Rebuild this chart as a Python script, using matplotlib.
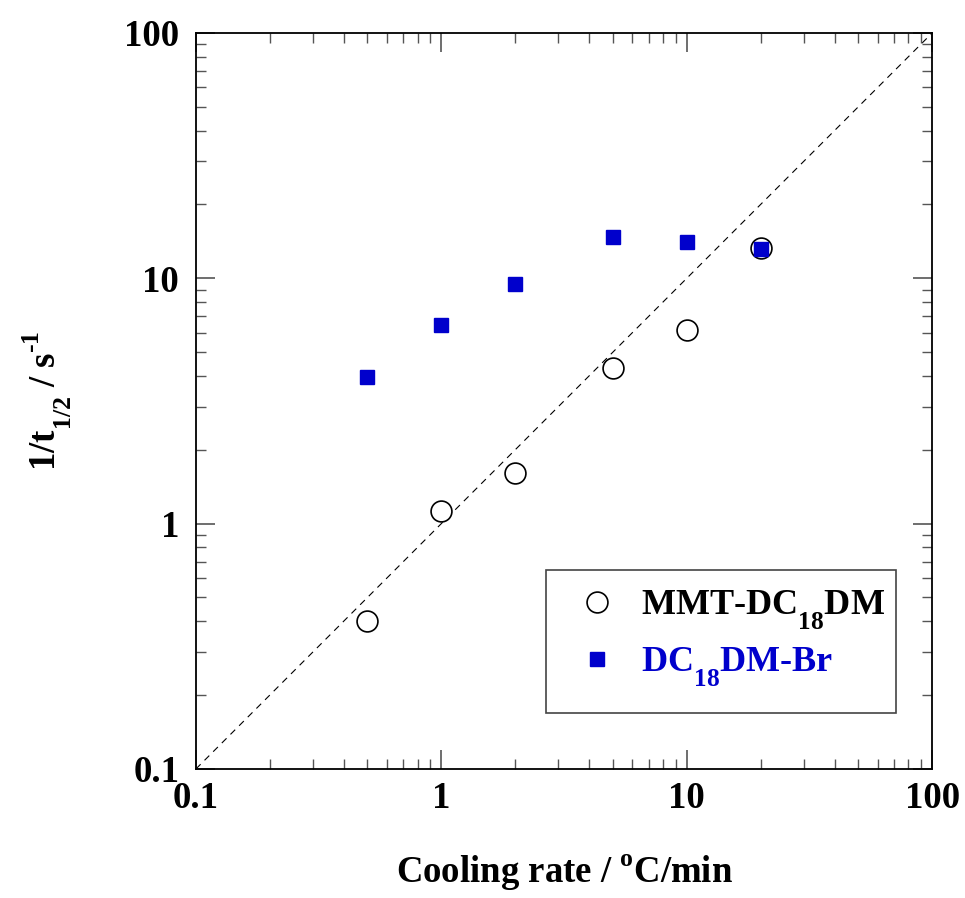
import numpy as np
import matplotlib
matplotlib.use("Agg")
import matplotlib.pyplot as plt
import matplotlib._mathtext as mt
from matplotlib.patches import Rectangle

plt.rcParams['font.family'] = 'Liberation Serif'
plt.rcParams['font.weight'] = 'bold'
plt.rcParams['axes.labelweight'] = 'bold'
plt.rcParams['mathtext.fontset'] = 'custom'
plt.rcParams['mathtext.rm'] = 'Liberation Serif:bold'
plt.rcParams['mathtext.it'] = 'Liberation Serif:bold'
plt.rcParams['mathtext.bf'] = 'Liberation Serif:bold'
# subscripts sit lower in the original
mt.FontConstantsBase.sub1 = 0.9
mt.FontConstantsBase.sup1 = 0.9

# data
rate = [0.5, 1, 2, 5, 10, 20]
mmt = [0.40, 1.13, 1.61, 4.31, 6.16, 13.3]
br = [3.96, 6.46, 9.49, 14.7, 14.1, 13.2]
guide = [0.1, 100]

blue = '#0000CC'

fig = plt.figure(figsize=(9.65, 8.98), dpi=100)
ax = fig.add_axes([0.203, 0.1437, 0.763, 0.8196])

ax.plot(guide, guide, color='black', lw=0.8, ls=(0, (6, 5)), zorder=1)
ax.plot(rate, mmt, 'o', ms=15, mfc='white', mec='black', mew=1.2,
        label=r'MMT-DC$_{18}$DM', zorder=3)
ax.plot(rate, br, 's', ms=10, mfc=blue, mec=blue,
        label=r'DC$_{18}$DM-Br', zorder=4)

ax.set_xscale('log')
ax.set_yscale('log')
ax.set_xlim(0.1, 100)
ax.set_ylim(0.1, 100)
ax.set_xticks([0.1, 1, 10, 100])
ax.set_xticklabels(['0.1', '1', '10', '100'])
ax.set_yticks([0.1, 1, 10, 100])
ax.set_yticklabels(['0.1', '1', '10', '100'])

ax.tick_params(which='both', direction='in', top=True, right=True,
               labelsize=26.5, color='#555555')
ax.tick_params(which='major', length=14, width=1.2)
ax.tick_params(axis='x', which='major', pad=9)
ax.tick_params(axis='y', which='major', pad=12)
ax.tick_params(which='minor', length=7, width=1.0)
for s in ax.spines.values():
    s.set_linewidth(1.3)

ax.set_xlabel(r'Cooling rate / $^{o}$C/min', fontsize=26.5, labelpad=26)
ax.set_ylabel(r'1/t$_{1/2}$ / s$^{\text{-1}}$', fontsize=26.5, labelpad=36)

# legend frame
ax.add_patch(Rectangle((0.476, 0.076), 0.475, 0.194, transform=ax.transAxes,
                       fill=False, ec='#444444', lw=1.2, zorder=5))
leg = ax.legend(loc='upper left', bbox_to_anchor=(0.476, 0.270),
                fontsize=26, frameon=False, borderaxespad=0,
                handlelength=1.83, handletextpad=0.28, borderpad=0.5,
                labelspacing=0.4)
leg.get_texts()[1].set_color(blue)

fig.savefig('out.png', dpi=100)
